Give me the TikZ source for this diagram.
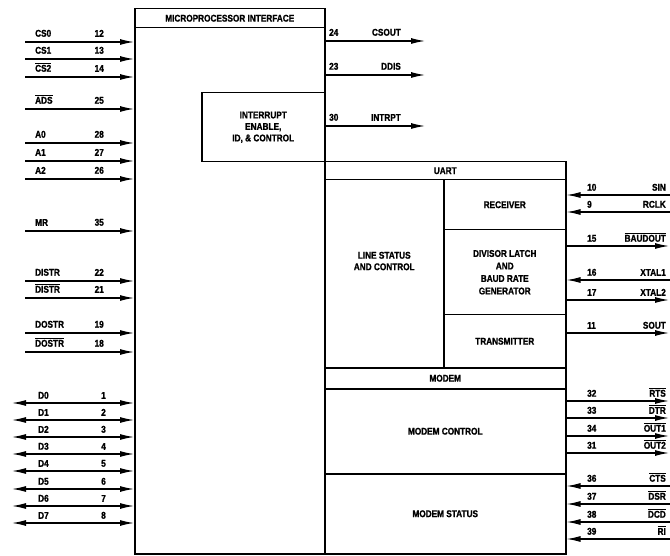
\documentclass[tikz,border=0pt]{standalone}
\usepackage{fontspec}
\setmainfont[FakeStretch=0.84,BoldFeatures={FakeBold=1.2}]{Liberation Sans}
\usetikzlibrary{arrows.meta}
\newcommand\lbl{\bfseries\fontsize{9.8}{11.5}\selectfont}
\newcommand\ovl[1]{$\overline{\mbox{#1}}$}
\begin{document}
\begin{tikzpicture}[x=1pt,y=-1pt,
  box/.style={draw,line width=1.5pt,inner sep=0pt,anchor=north west,align=center,font=\lbl},
  pinline/.style={line width=1.2pt,-{Latex[length=14pt,width=6pt]}},
  bipin/.style={line width=1.2pt,{Latex[length=14pt,width=6pt]}-{Latex[length=14pt,width=6pt]}},
  txt/.style={font=\lbl,inner sep=0pt}]
\useasboundingbox (0,0) rectangle (670,556);
% blocks
\node[box,minimum width=190pt,minimum height=545pt] (mp) at (134,8) {};
\node[box,minimum width=190pt,minimum height=19pt] (mph) at (134,8) {MICROPROCESSOR INTERFACE};
\node[box,minimum width=123pt,minimum height=69pt] (intr) at (201,92) {INTERRUPT\\ENABLE,\\ID, \& CONTROL};
\node[box,minimum width=241pt,minimum height=18pt] (uart) at (324,161) {UART};
\node[box,minimum width=119pt,minimum height=188pt] (lsc) at (324,179) {LINE STATUS\\AND CONTROL\\[14pt]\mbox{}};
\node[box,minimum width=122pt,minimum height=50pt] (rcv) at (443,179) {RECEIVER};
\node[box,minimum width=122pt,minimum height=85pt] (div) at (443,229) {DIVISOR LATCH\\[1pt]AND\\[1pt]BAUD RATE\\[1pt]GENERATOR};
\node[box,minimum width=122pt,minimum height=53pt] (tx) at (443,314) {TRANSMITTER};
\node[box,minimum width=241pt,minimum height=21pt] (modem) at (324,367) {MODEM};
\node[box,minimum width=241pt,minimum height=85pt] (mctl) at (324,388) {MODEM CONTROL};
\node[box,minimum width=241pt,minimum height=80pt] (mst) at (324,473) {MODEM STATUS};
% left inputs
\foreach \n/\lab/\num/\y in {a/CS0/12/42, b/CS1/13/59, c/\ovl{CS2}/14/77, d/\ovl{ADS}/25/109,
  e/A0/28/143, f/A1/27/161, g/A2/26/179, h/MR/35/231, i/DISTR/22/281, j/\ovl{DISTR}/21/298,
  k/DOSTR/19/333, l/\ovl{DOSTR}/18/352} {
  \coordinate (L\n) at (25,\y);
  \draw[pinline] (L\n) -- (L\n -| mp.west);
  \node[txt,anchor=south west] (Ll\n) at (35,\y-5) {\lab};
  \node[txt,anchor=south east] (Ln\n) at (104,\y-5) {\num};
}
% data bus
\foreach \i/\y in {0/403,1/420,2/437,3/454,4/471,5/489,6/506,7/523} {
  \pgfmathtruncatemacro\pn{\i+1}
  \coordinate (D\i) at (12,\y);
  \draw[bipin] (D\i) -- (D\i -| mp.west);
  \node[txt,anchor=south west] (Dl\i) at (38,\y-4) {D\i};
  \node[txt,anchor=south east] (Dn\i) at (106,\y-4) {\pn};
}
% right outputs of microprocessor interface
\foreach \n/\lab/\num/\y in {a/CSOUT/24/41, b/DDIS/23/75, c/INTRPT/30/126} {
  \coordinate (R\n) at (425,\y);
  \draw[pinline] (R\n -| mp.east) -- (R\n);
  \node[txt,anchor=south west] (Rn\n) at (329,\y-5) {\num};
  \node[txt,anchor=south east] (Rl\n) at (401,\y-5) {\lab};
}
% serial / modem outputs
\foreach \n/\lab/\num/\y in {a/\ovl{BAUDOUT}/15/246, b/XTAL2/17/300, c/SOUT/11/333,
  d/\ovl{RTS}/32/401, e/\ovl{DTR}/33/418, f/\ovl{OUT1}/34/436, g/\ovl{OUT2}/31/453} {
  \coordinate (S\n) at (669,\y);
  \draw[pinline] (S\n -| uart.east) -- (S\n);
  \node[txt,anchor=south west] (Sn\n) at (587,\y-4) {\num};
  \node[txt,anchor=south east] (Sl\n) at (666,\y-4) {\lab};
}
% serial / modem inputs
\foreach \n/\lab/\num/\y in {a/SIN/10/195, b/RCLK/9/212, c/XTAL1/16/280,
  d/\ovl{CTS}/36/486, e/\ovl{DSR}/37/504, f/\ovl{DCD}/38/522, g/\ovl{RI}/39/539} {
  \coordinate (I\n) at (670,\y);
  \draw[pinline] (I\n) -- (I\n -| uart.east);
  \node[txt,anchor=south west] (In\n) at (587,\y-4) {\num};
  \node[txt,anchor=south east] (Il\n) at (666,\y-4) {\lab};
}
\end{tikzpicture}
\end{document}
